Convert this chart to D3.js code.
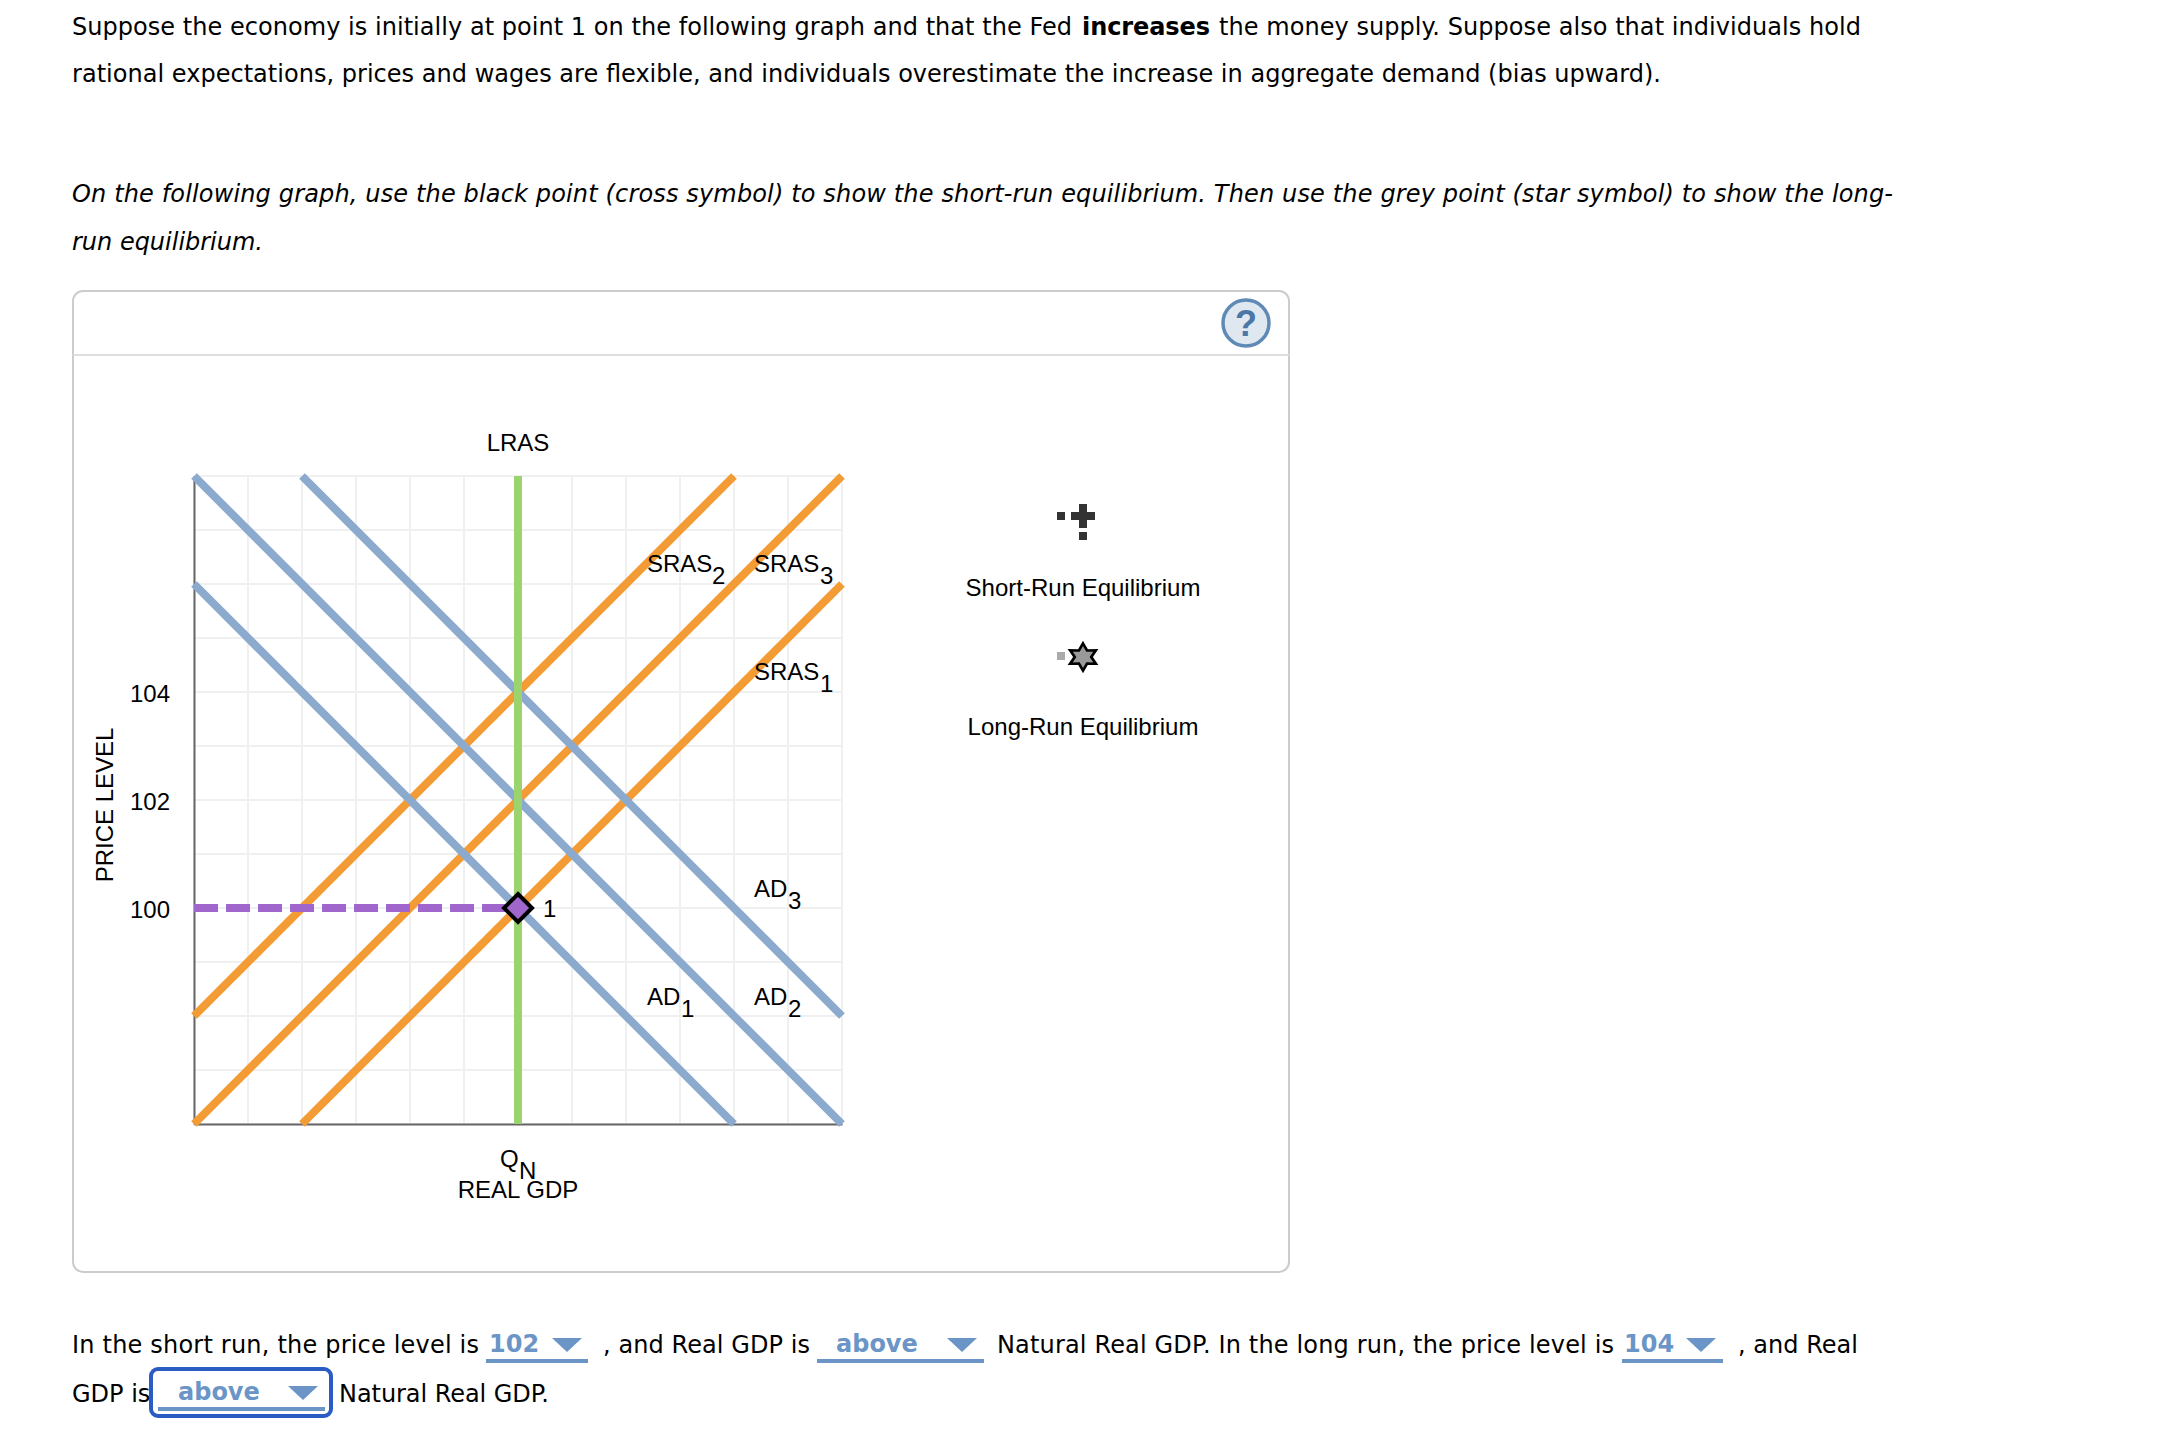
<!DOCTYPE html>
<html><head><meta charset="utf-8">
<script src="https://cdn.jsdelivr.net/npm/d3@7"></script>
<style>
html,body{margin:0;padding:0;background:#fff}
svg{display:block}
.b{font-family:"DejaVu Sans",Verdana,sans-serif;font-size:24px;fill:#000}
.c{font-family:"Liberation Sans",Arial,sans-serif;font-size:24px;fill:#000}
.dd{font-family:"DejaVu Sans",Verdana,sans-serif;font-size:24px;font-weight:bold;fill:#6a95c6}
</style></head><body>
<div id="chart"></div>
<script>
// ---- data ----
const gridCols = d3.range(0, 13);           // x grid, QN in the middle
const priceGrid = d3.range(96, 109);        // y grid
const priceTicks = [100, 102, 104];
const AD1 = [[0,106],[10,96]];
const AD2 = [[0,108],[12,96]];
const AD3 = [[2,108],[12,98]];
const SRAS1 = [[2,96],[12,106]];
const SRAS2 = [[0,98],[10,108]];
const SRAS3 = [[0,96],[12,108]];
const LRAS = [[6,96],[6,108]];
const point1 = [6,100];

const W = 2170, H = 1452;
const svg = d3.select("#chart").append("svg").attr("width",W).attr("height",H).attr("viewBox",`0 0 ${W} ${H}`);
const x = d3.scaleLinear().domain([0,12]).range([194,842]);
const y = d3.scaleLinear().domain([96,108]).range([1124,476]);
const line = d3.line().x(d=>x(d[0])).y(d=>y(d[1]));

function t(px,py,str,cls,extra){
  const e = svg.append("text").attr("x",px).attr("y",py).attr("class",cls).text(str);
  if(extra) extra(e);
  return e;
}
// text fitted to a measured width
function f(px,py,str,len,extra){
  const e = t(px,py,str,"b").attr("textLength",len).attr("lengthAdjust","spacing");
  if(extra) extra(e);
  return e;
}
const ital = e=>e.attr("font-style","italic");
f(72,35,"Suppose the economy is initially at point 1 on the following graph and that the Fed",1000);
f(1082,35,"increases",128,e=>e.attr("font-weight","bold"));
f(1219,35,"the money supply. Suppose also that individuals hold",642);
f(72,82,"rational expectations, prices and wages are flexible, and individuals overestimate the increase in aggregate demand (bias upward).",1589);
f(72,202,"On the following graph, use the black point (cross symbol) to show the short-run equilibrium. Then use the grey point (star symbol) to show the long-",1821,ital);
f(72,250,"run equilibrium.",191,ital);

// panel
svg.append("rect").attr("x",73).attr("y",291).attr("width",1216).attr("height",981).attr("rx",10)
  .attr("fill","#fff").attr("stroke","#ccc").attr("stroke-width",2);
svg.append("line").attr("x1",73).attr("x2",1289).attr("y1",355).attr("y2",355).attr("stroke","#ddd").attr("stroke-width",2);
svg.append("circle").attr("cx",1246).attr("cy",323).attr("r",23).attr("fill","#dfe8f1").attr("stroke","#5f8ab5").attr("stroke-width",3.5);
svg.append("text").attr("x",1246).attr("y",336).attr("text-anchor","middle").attr("font-weight","bold")
  .style("font-family","'Liberation Sans',Arial,sans-serif").style("font-size","36px").attr("fill","#4a76a8").text("?");

// grid
const g = svg.append("g");
g.selectAll(".gx").data(gridCols).join("line").attr("x1",d=>x(d)).attr("x2",d=>x(d)).attr("y1",y(108)).attr("y2",y(96))
  .attr("stroke","#f0f0f0").attr("stroke-width",2);
g.selectAll(".gy").data(priceGrid).join("line").attr("y1",d=>y(d)).attr("y2",d=>y(d)).attr("x1",x(0)).attr("x2",x(12))
  .attr("stroke","#f0f0f0").attr("stroke-width",2);

// axes
const yAxis = g.append("g").attr("transform",`translate(${x(0)},0)`)
  .call(d3.axisLeft(y).tickValues(priceTicks).tickSize(0).tickPadding(24));
const xAxis = g.append("g").attr("transform",`translate(0,${y(96)})`)
  .call(d3.axisBottom(x).tickValues([]).tickSize(0));
yAxis.select(".domain").attr("stroke","#666").attr("stroke-width",2);
xAxis.select(".domain").attr("stroke","#666").attr("stroke-width",2);
yAxis.selectAll("text").attr("class","c").attr("dy",null).attr("y",9).attr("fill","#000");

// curves
[SRAS1,SRAS2,SRAS3].forEach(d=>g.append("path").attr("d",line(d)).attr("fill","none").attr("stroke","#f39c35").attr("stroke-width",8));
[AD1,AD2,AD3].forEach(d=>g.append("path").attr("d",line(d)).attr("fill","none").attr("stroke","#8baacd").attr("stroke-width",8));
g.append("path").attr("d",line(LRAS)).attr("fill","none").attr("stroke","#9bd46f").attr("stroke-width",8);
g.append("path").attr("d",line([[0,point1[1]],point1])).attr("fill","none").attr("stroke","#a066cc").attr("stroke-width",8).attr("stroke-dasharray","24 8");
g.append("path").attr("transform",`translate(${x(point1[0])},${y(point1[1])})`)
  .attr("d","M0,-14L14,0L0,14L-14,0Z").attr("fill","#a066cc").attr("stroke","#000").attr("stroke-width",4);

// curve labels
function label(px,py,main,sub,subx){
  t(px,py,main,"c");
  if(sub) t(subx,py+12,sub,"c");
}
t(518,451,"LRAS","c",e=>e.attr("text-anchor","middle"));
label(647,572,"SRAS","2",712);
label(754,572,"SRAS","3",820);
label(754,680,"SRAS","1",820);
label(647,1005,"AD","1",681);
label(754,1005,"AD","2",788);
label(754,897,"AD","3",788);
t(543,917,"1","c");
label(500,1167,"Q","N",519);
t(518,1198,"REAL GDP","c",e=>e.attr("text-anchor","middle"));
svg.append("text").attr("class","c").attr("transform","translate(113,805) rotate(-90)").attr("text-anchor","middle").text("PRICE LEVEL");

// legend
const sq = [[1057,512],[1079,504],[1079,520],[1079,532]];
svg.selectAll(".sq").data(sq).join("rect").attr("x",d=>d[0]).attr("y",d=>d[1]).attr("width",8).attr("height",8).attr("fill","#333");
svg.append("rect").attr("x",1071).attr("y",512).attr("width",24).attr("height",8).attr("fill","#333");
t(1083,596,"Short-Run Equilibrium","c",e=>e.attr("text-anchor","middle"));
svg.append("rect").attr("x",1057).attr("y",652).attr("width",8).attr("height",8).attr("fill","#aaa");
const star = d3.range(12).map(i=>{const a=i*Math.PI/6,r=i%2?7.5:13.5;return [r*Math.sin(a),-r*Math.cos(a)]});
svg.append("path").attr("transform","translate(1083,657) scale(1.1,1)").attr("d","M"+star.join("L")+"Z").attr("fill","#999").attr("stroke","#000").attr("stroke-width",2.5).attr("stroke-linejoin","miter");
t(1083,735,"Long-Run Equilibrium","c",e=>e.attr("text-anchor","middle"));

// answer sentences
function dropdown(tx,val,tri,ul,uy,ty){
  t(tx,uy-7,val,"dd");
  svg.append("path").attr("d",`M${tri},${ty}h30l-15,14z`).attr("fill","#6a95c6");
  svg.append("rect").attr("x",ul[0]).attr("y",uy).attr("width",ul[1]-ul[0]).attr("height",4).attr("fill","#6a95c6");
}
f(72,1353,"In the short run, the price level is",407);
dropdown(489,"102",552,[486,588],1359,1338);
f(603,1353,", and Real GDP is",207);
dropdown(836,"above",947,[817,984],1359,1338);
f(997,1353,"Natural Real GDP. In the long run, the price level is",617);
dropdown(1624,"104",1686,[1622,1723],1359,1338);
f(1738,1353,", and Real",120);
t(72,1402,"GDP is","b");
svg.append("rect").attr("x",151).attr("y",1369).attr("width",180).attr("height",47).attr("rx",7).attr("fill","#fff").attr("stroke","#2a5cc4").attr("stroke-width",4);
dropdown(178,"above",288,[158,325],1407,1386);
f(339,1402,"Natural Real GDP.",210);
</script>
</body></html>
